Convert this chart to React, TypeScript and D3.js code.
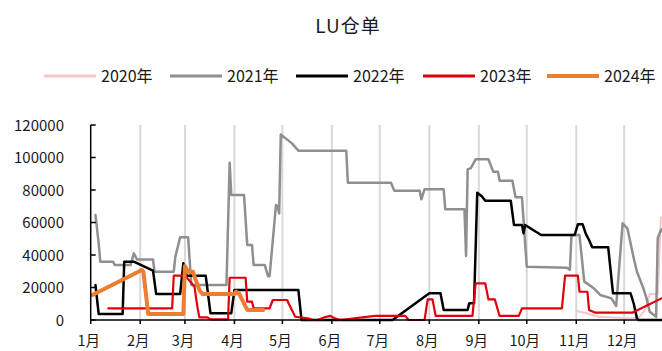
import React from 'react';
import * as d3 from 'd3';

const title = 'LU仓单';
const seriesNames = ['2020年', '2021年', '2022年', '2023年', '2024年'];
const seriesColors = ['#f5c6cb', '#8f8f8f', '#000000', '#e0000b', '#ed7d31'];
const seriesWidths = [2, 2.5, 2.5, 2.2, 4];
const monthLabels = ['1月', '2月', '3月', '4月', '5月', '6月', '7月', '8月', '9月', '10月', '11月', '12月'];
const yTicks = [0, 20000, 40000, 60000, 80000, 100000, 120000];

const s2020: [string, number][] = [
  ['11-01', 5500], ['11-08', 4000], ['11-15', 2000], ['12-05', 1000], ['12-10', 1500],
  ['12-14', 6000], ['12-17', 16000], ['12-22', 16000], ['12-24', 63000], ['12-31', 65000],
];

const s2021: [string, number][] = [
  ['01-04', 64600], ['01-06', 47200], ['01-07', 35900], ['01-15', 35900], ['01-16', 33800],
  ['01-26', 33800], ['01-28', 41000], ['01-30', 37300], ['02-09', 37300], ['02-10', 29700],
  ['02-22', 29700], ['02-23', 39000], ['02-26', 50900], ['03-03', 50900], ['03-05', 21500],
  ['03-27', 21500], ['03-29', 96800], ['03-30', 76900], ['04-07', 76900], ['04-09', 46200],
  ['04-12', 46200], ['04-13', 33800], ['04-20', 33800], ['04-22', 27000], ['04-23', 27000],
  ['04-27', 70800], ['04-28', 70000], ['04-29', 65600], ['04-30', 114200], ['05-07', 108700],
  ['05-11', 104200], ['06-10', 104200], ['06-11', 84500], ['07-08', 84500], ['07-10', 79600],
  ['07-26', 79600], ['07-27', 74300], ['07-29', 80400], ['08-10', 80400], ['08-11', 68100],
  ['08-23', 68100], ['08-24', 39400], ['08-25', 92700], ['08-27', 93500], ['08-30', 98900],
  ['09-07', 98900], ['09-10', 91300], ['09-13', 91300], ['09-14', 85700], ['09-22', 85700],
  ['09-24', 75500], ['09-28', 75500], ['10-01', 32800], ['10-26', 32200], ['10-28', 31000],
  ['10-29', 52300], ['11-03', 52300], ['11-06', 23600], ['11-12', 19500], ['11-16', 15400],
  ['11-23', 13300], ['11-26', 8600], ['11-30', 59500], ['12-03', 56400], ['12-07', 37900],
  ['12-09', 29700], ['12-13', 19500], ['12-15', 13300], ['12-17', 5100], ['12-21', 2000],
  ['12-22', 50300], ['12-24', 55400], ['12-31', 60000],
];

const s2022: [string, number][] = [
  ['01-04', 21500], ['01-06', 3700], ['01-21', 3700], ['01-22', 35900], ['01-28', 35900],
  ['02-09', 30400], ['02-11', 16000], ['02-26', 16000], ['02-28', 34900], ['03-02', 27300],
  ['03-14', 27300], ['03-17', 4100], ['03-30', 4100], ['04-01', 18500], ['05-11', 18500],
  ['05-13', 0], ['07-09', 0], ['08-01', 16400], ['08-08', 16400], ['08-10', 6200],
  ['08-25', 6200], ['08-26', 10300], ['08-29', 10300], ['08-31', 78300], ['09-03', 76000],
  ['09-05', 73400], ['09-21', 73400], ['09-23', 58500], ['09-28', 58500], ['09-29', 53300],
  ['09-30', 58500], ['10-10', 52300], ['10-31', 52300], ['11-02', 58900], ['11-05', 58900],
  ['11-07', 53000], ['11-09', 49200], ['11-11', 44700], ['11-21', 44700], ['11-24', 16400],
  ['12-05', 16400], ['12-07', 10000], ['12-09', 1000], ['12-10', 0], ['12-31', 0],
];

const s2023: [string, number][] = [
  ['01-12', 7200], ['02-21', 7200], ['02-22', 27300], ['03-01', 27300], ['03-04', 24000],
  ['03-07', 20500], ['03-08', 13300], ['03-09', 7000], ['03-10', 1600], ['03-15', 1600],
  ['03-17', 400], ['03-28', 400], ['03-29', 26000], ['04-08', 26000], ['04-09', 11300],
  ['04-12', 11300], ['04-13', 7200], ['04-23', 7200], ['04-25', 12300], ['05-04', 12300],
  ['05-05', 10000], ['05-07', 6200], ['05-09', 2000], ['05-17', 1000], ['05-20', 0],
  ['05-23', 0], ['05-27', 1600], ['05-31', 2500], ['06-03', 1000], ['06-06', 0],
  ['06-28', 2500], ['07-17', 2500], ['07-19', 0], ['07-29', 0], ['07-31', 12700],
  ['08-03', 12700], ['08-05', 2500], ['08-28', 2500], ['08-30', 22600], ['09-05', 22600],
  ['09-07', 12700], ['09-11', 12700], ['09-14', 2500], ['09-26', 2500], ['09-28', 7200],
  ['10-23', 7200], ['10-25', 27300], ['11-02', 27300], ['11-03', 17400], ['11-08', 17400],
  ['11-09', 6200], ['11-13', 4500], ['12-06', 4500], ['12-31', 16500],
];

const s2024: [string, number][] = [
  ['01-02', 15400], ['02-02', 30800], ['02-03', 29700], ['02-06', 3700], ['02-28', 3700],
  ['03-01', 33200], ['03-03', 29700], ['03-06', 29700], ['03-08', 24000], ['03-10', 18500],
  ['03-12', 16000], ['04-01', 16000], ['04-02', 17400], ['04-04', 16000], ['04-09', 6200],
  ['04-19', 6200],
];

const allSeries = [s2020, s2021, s2022, s2023, s2024];

const W = 662;
const H = 351;
const FONT = '"Noto Sans CJK SC", "Noto Sans", sans-serif';

const parse = (md: string) => {
  const [m, d] = md.split('-').map(Number);
  return new Date(2001, m - 1, d);
};

export default function App() {
  const x = d3.scaleTime().domain([new Date(2001, 0, 1), new Date(2002, 0, 1)]).range([90.7, 673.7]);
  const y = d3.scaleLinear().domain([0, 120000]).range([320, 125]);
  const line = d3
    .line<[string, number]>()
    .x((d) => x(parse(d[0])))
    .y((d) => y(d[1]));
  const months = d3.range(12).map((i) => new Date(2001, i, 1));

  const legendX = [44, 170, 296, 423, 547];

  return (
    <svg width={W} height={H} style={{ position: 'absolute', left: 0, top: 0, background: '#fff' }} fontFamily={FONT}>
      <rect width={W} height={H} fill="#fff" />
      <text x={348} y={33} textAnchor="middle" fontSize={19} fill="#1a1a1a" letterSpacing={1}>
        {title}
      </text>
      {seriesNames.map((n, i) => (
        <g key={n}>
          <line
            x1={legendX[i]}
            x2={legendX[i] + 52}
            y1={76}
            y2={76}
            stroke={seriesColors[i]}
            strokeWidth={i === 4 ? 4 : 3}
          />
          <text x={legendX[i] + 57} y={82} fontSize={16} fill="#1a1a1a">
            {n}
          </text>
        </g>
      ))}
      {months.slice(1).map((m, i) => (
        <line key={i} x1={x(m)} x2={x(m)} y1={y(120000)} y2={y(0)} stroke="#d9d9d9" strokeWidth={2} />
      ))}
      {allSeries.map((s, i) => (
        <path
          key={i}
          d={line(s) || ''}
          fill="none"
          stroke={seriesColors[i]}
          strokeWidth={seriesWidths[i]}
          strokeLinejoin="round"
          strokeLinecap="round"
        />
      ))}
      <line x1={x(months[0])} x2={x(months[0])} y1={y(120000)} y2={y(0)} stroke="#000" strokeWidth={1.5} />
      <line x1={x(months[0])} x2={W} y1={y(0)} y2={y(0)} stroke="#000" strokeWidth={1.5} />
      {yTicks.map((t) => (
        <g key={t}>
          <line x1={x(months[0])} x2={x(months[0]) + 5} y1={y(t)} y2={y(t)} stroke="#000" strokeWidth={1.5} />
          <text x={64} y={y(t) + 5.5} textAnchor="end" fontSize={15} fill="#1a1a1a">
            {t}
          </text>
        </g>
      ))}
      {months.map((m, i) => (
        <g key={i}>
          <line x1={x(m)} x2={x(m)} y1={y(0)} y2={y(0) + 4} stroke="#000" strokeWidth={1.5} />
          <text x={x(m) - 2} y={346} textAnchor="middle" fontSize={14.5} fill="#1a1a1a">
            {monthLabels[i]}
          </text>
        </g>
      ))}
    </svg>
  );
}
